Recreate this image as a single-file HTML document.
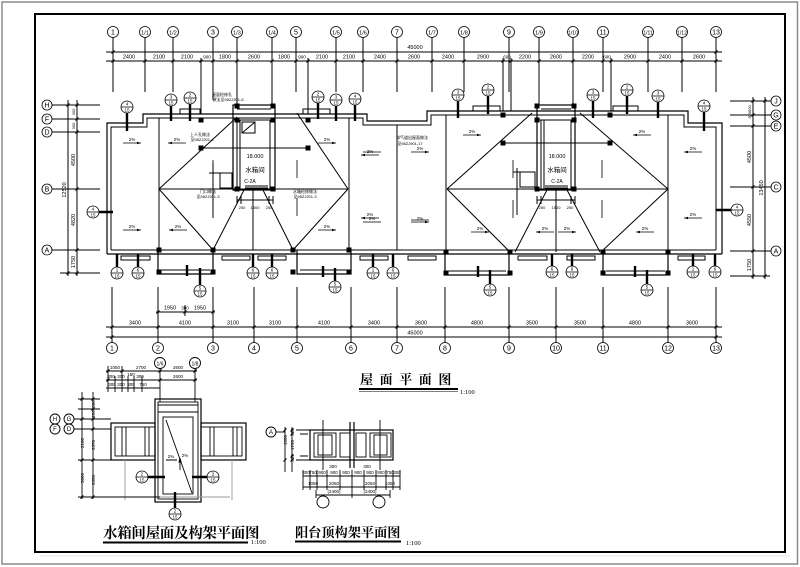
<!DOCTYPE html>
<html><head><meta charset="utf-8"><style>
html,body{margin:0;padding:0;background:#fff;}
svg{display:block;}
text{font-family:"Liberation Sans","Noto Sans CJK SC",sans-serif;fill:#000;stroke:none;}
.s{font-size:4.5px;text-anchor:middle;}
.d{font-size:5.5px;text-anchor:middle;}
.a{font-size:7px;text-anchor:middle;}
.cj{font-family:"Liberation Serif","Noto Serif CJK SC","Noto Sans CJK SC",serif;font-weight:bold;}
</style></head><body>
<svg width="800" height="567" viewBox="0 0 800 567" xmlns="http://www.w3.org/2000/svg">
<rect x="0" y="0" width="800" height="567" fill="#fff"/>
<!-- frames -->
<rect x="2" y="2" width="795.5" height="562" fill="none" stroke="#8a8a8a" stroke-width="1.5"/>
<rect x="35" y="14" width="750" height="538" fill="none" stroke="#000" stroke-width="2"/>
<line x1="40" y1="556" x2="790" y2="556" stroke="#e2e2e2" stroke-width="1"/>

<g fill="none" stroke="#000" stroke-width="1">
<!-- ===== TOP AXES ===== -->
<g stroke-width="0.8">
<circle cx="113" cy="32" r="5.5"/><circle cx="145" cy="32" r="5.5"/><circle cx="173" cy="32" r="5.5"/><circle cx="213" cy="32" r="5.5"/><circle cx="237" cy="32" r="5.5"/><circle cx="272" cy="32" r="5.5"/><circle cx="296" cy="32" r="5.5"/><circle cx="336" cy="32" r="5.5"/><circle cx="363" cy="32" r="5.5"/><circle cx="397" cy="32" r="5.5"/><circle cx="432" cy="32" r="5.5"/><circle cx="464" cy="32" r="5.5"/><circle cx="509" cy="32" r="5.5"/><circle cx="539" cy="32" r="5.5"/><circle cx="573" cy="32" r="5.5"/><circle cx="603" cy="32" r="5.5"/><circle cx="648" cy="32" r="5.5"/><circle cx="682" cy="32" r="5.5"/><circle cx="716" cy="32" r="5.5"/>
</g>
<path d="M113 37.5V92M145 37.5V92M173 37.5V92M213 37.5V100M237 37.5V105M272 37.5V105M296 37.5V92M336 37.5V92M363 37.5V92M397 37.5V92M432 37.5V92M464 37.5V92M509 37.5V92M539 37.5V105M573 37.5V105M603 37.5V92M648 37.5V92M682 37.5V92M716 37.5V92M201 58V114M308 58V114M503 58V111M511 58V111M611 58V111"/>
<path d="M106 52H722M106 61H722"/>
<path stroke-width="1.1" d="M111.5 53.5l3-3M714.5 53.5l3-3M111.5 62.5l3-3M143.5 62.5l3-3M171.5 62.5l3-3M199.5 62.5l3-3M211.5 62.5l3-3M235.5 62.5l3-3M270.5 62.5l3-3M294.5 62.5l3-3M306.5 62.5l3-3M334.5 62.5l3-3M361.5 62.5l3-3M395.5 62.5l3-3M430.5 62.5l3-3M462.5 62.5l3-3M501.5 62.5l3-3M509.5 62.5l3-3M537.5 62.5l3-3M571.5 62.5l3-3M601.5 62.5l3-3M609.5 62.5l3-3M646.5 62.5l3-3M680.5 62.5l3-3M714.5 62.5l3-3"/>

<!-- ===== BOTTOM AXES ===== -->
<g stroke-width="0.8">
<circle cx="112" cy="348" r="5.5"/><circle cx="158" cy="348" r="5.5"/><circle cx="213" cy="348" r="5.5"/><circle cx="254" cy="348" r="5.5"/><circle cx="297" cy="348" r="5.5"/><circle cx="351" cy="348" r="5.5"/><circle cx="397" cy="348" r="5.5"/><circle cx="445" cy="348" r="5.5"/><circle cx="509" cy="348" r="5.5"/><circle cx="556" cy="348" r="5.5"/><circle cx="603" cy="348" r="5.5"/><circle cx="668" cy="348" r="5.5"/><circle cx="716" cy="348" r="5.5"/>
</g>
<path d="M112 287V342.5M158 287V342.5M213 287V342.5M254 287V342.5M297 287V342.5M351 287V342.5M397 287V342.5M445 287V342.5M509 287V342.5M556 287V342.5M603 287V342.5M668 287V342.5M716 287V342.5"/>
<path d="M106 327H722M106 337H722M156 312H215"/>
<path stroke-width="1.1" d="M110.5 328.5l3-3M156.5 328.5l3-3M211.5 328.5l3-3M252.5 328.5l3-3M295.5 328.5l3-3M349.5 328.5l3-3M395.5 328.5l3-3M443.5 328.5l3-3M507.5 328.5l3-3M554.5 328.5l3-3M601.5 328.5l3-3M666.5 328.5l3-3M714.5 328.5l3-3M110.5 338.5l3-3M714.5 338.5l3-3M156.5 313.5l3-3M211.5 313.5l3-3M183.5 313.5l3-3"/>
<path d="M185 305V316"/>

<!-- ===== LEFT AXES ===== -->
<circle cx="47" cy="105" r="5" stroke-width="0.8"/><circle cx="47" cy="119" r="5" stroke-width="0.8"/><circle cx="47" cy="132" r="5" stroke-width="0.8"/><circle cx="47" cy="189" r="5" stroke-width="0.8"/><circle cx="47" cy="250" r="5" stroke-width="0.8"/>
<path d="M52 105H100M52 119H100M52 132H100M52 189H100M52 250H100M60 273H100M68 100V276M77 100V276"/>
<path stroke-width="1.1" d="M66.5 106.5l3-3M66.5 274.5l3-3M75.5 106.5l3-3M75.5 120.5l3-3M75.5 133.5l3-3M75.5 190.5l3-3M75.5 251.5l3-3M75.5 274.5l3-3"/>

<!-- ===== RIGHT AXES ===== -->
<circle cx="776" cy="101" r="5" stroke-width="0.8"/><circle cx="776" cy="115" r="5" stroke-width="0.8"/><circle cx="776" cy="126" r="5" stroke-width="0.8"/><circle cx="776" cy="187" r="5" stroke-width="0.8"/><circle cx="776" cy="251" r="5" stroke-width="0.8"/>
<path d="M730 101H771M730 115H771M730 126H771M730 187H771M730 251H771M730 276H770M753 97V279M765 97V279"/>
<path stroke-width="1.1" d="M751.5 102.5l3-3M751.5 116.5l3-3M751.5 127.5l3-3M751.5 188.5l3-3M751.5 252.5l3-3M751.5 277.5l3-3M763.5 102.5l3-3M763.5 277.5l3-3"/>

<!-- ===== MAIN BUILDING ===== -->
<polyline stroke-width="1.2" points="107,254 107,123 143,123 143,114 367,114 367,121 427,121 427,111 688,111 688,123 722,123 722,254"/>
<polyline points="111,250 111,127 147,127 147,118 363,118 363,125 431,125 431,115 684,115 684,127 716,127 716,250"/>
<path stroke-width="1.2" d="M107 254H722"/>
<path d="M111 250H716"/>
<!-- top sills -->
<rect x="180" y="109" width="20" height="5"/><rect x="303" y="109" width="27" height="5"/><rect x="473" y="106" width="27" height="5"/><rect x="613" y="106" width="25" height="5"/>
<!-- bottom sills -->
<rect x="121" y="256" width="29" height="4"/><rect x="222" y="256" width="28" height="4"/><rect x="258" y="256" width="28" height="4"/><rect x="360" y="256" width="28" height="4"/><rect x="408" y="256" width="28" height="4"/><rect x="518" y="256" width="29" height="4"/><rect x="567" y="256" width="28" height="4"/><rect x="678" y="256" width="27" height="4"/>
<!-- balconies -->
<path stroke-width="1.2" d="M158 250V274H213V250M297 250V274H351V250M445 252V275H509V252M603 252V275H668V252"/>
<path d="M161 270H210M300 270H348M448 271H506M606 271H665"/>
<!-- interior verticals -->
<path d="M159 118V250M349 118V250M397 125V250M446 115V250M668 115V250"/>
<!-- hip roof left -->
<path d="M159 189H348M159 189L237 117M159 189L213 250M348 189L297 113M348 189L293 250M213 250L244 190M293 250L263 190M253 190V250M201 148H308"/>
<!-- hip roof right -->
<path d="M447 189H668M447 189L532 113M447 189L510 252M668 189L580 113M668 189L601 252M515 252L547 190M600 252L567 190M556 190V252M503 143H610"/>
<!-- water tank left -->
<rect x="233" y="105" width="42" height="85" stroke-width="1.2"/>
<path d="M237 120V189M240 120V189M270 120V189M233 120H275M237 109H271"/>
<rect x="242" y="122" width="13" height="11"/><path d="M242 133L255 122"/>
<rect x="220" y="173" width="12" height="15"/>
<path d="M237 200H273M237 196V204M241 196V204M269 196V204M273 196V204"/>
<path d="M245 186H268M245 188H268"/>
<!-- water tank right -->
<rect x="537" y="105" width="38" height="85" stroke-width="1.2"/>
<path d="M541 120V189M544 120V189M571 120V189M537 120H575M541 109H571"/>
<rect x="520" y="172" width="15" height="15"/>
<path d="M537 200H575M537 196V204M541 196V204M571 196V204M575 196V204"/>
<path d="M545 186H568M545 188H568"/>
<!-- tank vertical dims -->
<path d="M213 163V218M209 173H220M517 168V215M513 172H520"/>

<!-- room arrows -->
<path stroke-width="0.8" d="M123 143H141M168 143H186M318 143H336M361 155H379M123 230H141M169 230H187M318 230H336M361 218H379M363 152H381M411 152H429M363 222H381M411 222H429M463 135H481M633 135H651M684 152H702M411 220H429M471 232H489M536 232H554M558 232H576M636 232H654M684 218H702M213 160V178M213 198V216M297 160V178M297 198V216M513 160V178M513 200V218M602 160V178M602 200V218"/>
</g>

<!-- column squares -->
<g fill="#000">
<rect x="198.5" y="117.5" width="5" height="5"/><rect x="198.5" y="145.5" width="5" height="5"/><rect x="305.5" y="117.5" width="5" height="5"/><rect x="305.5" y="145.5" width="5" height="5"/>
<rect x="234.5" y="103.5" width="5" height="5"/><rect x="270.5" y="103.5" width="5" height="5"/><rect x="234.5" y="117.5" width="5" height="5"/><rect x="270.5" y="117.5" width="5" height="5"/><rect x="234.5" y="186.5" width="5" height="5"/><rect x="270.5" y="186.5" width="5" height="5"/>
<rect x="156.5" y="247.5" width="5" height="5"/><rect x="210.5" y="247.5" width="5" height="5"/><rect x="290.5" y="247.5" width="5" height="5"/><rect x="346.5" y="247.5" width="5" height="5"/>
<rect x="156.5" y="269.5" width="5" height="5"/><rect x="210.5" y="269.5" width="5" height="5"/><rect x="290.5" y="269.5" width="5" height="5"/><rect x="346.5" y="269.5" width="5" height="5"/>
<rect x="500.5" y="112.5" width="5" height="5"/><rect x="607.5" y="112.5" width="5" height="5"/><rect x="500.5" y="140.5" width="5" height="5"/><rect x="607.5" y="140.5" width="5" height="5"/>
<rect x="534.5" y="103.5" width="5" height="5"/><rect x="571.5" y="103.5" width="5" height="5"/><rect x="534.5" y="117.5" width="5" height="5"/><rect x="571.5" y="117.5" width="5" height="5"/><rect x="534.5" y="186.5" width="5" height="5"/><rect x="571.5" y="186.5" width="5" height="5"/>
<rect x="443.5" y="249.5" width="5" height="5"/><rect x="507.5" y="249.5" width="5" height="5"/><rect x="600.5" y="249.5" width="5" height="5"/><rect x="665.5" y="249.5" width="5" height="5"/>
<rect x="443.5" y="270.5" width="5" height="5"/><rect x="507.5" y="270.5" width="5" height="5"/><rect x="600.5" y="270.5" width="5" height="5"/><rect x="665.5" y="270.5" width="5" height="5"/>
<!-- arrowheads -->
<path d="M141 143l-4-1.2v2.4zM168 143l4-1.2v2.4zM336 143l-4-1.2v2.4zM361 155l4-1.2v2.4zM141 230l-4-1.2v2.4zM169 230l4-1.2v2.4zM336 230l-4-1.2v2.4zM361 218l4-1.2v2.4zM429 152l-4-1.2v2.4zM429 222l-4-1.2v2.4zM481 135l-4-1.2v2.4zM633 135l4-1.2v2.4zM684 152l4-1.2v2.4zM489 232l-4-1.2v2.4zM536 232l4-1.2v2.4zM576 232l-4-1.2v2.4zM636 232l4-1.2v2.4zM684 218l4-1.2v2.4z"/>
</g>

<!-- section stubs (thick) -->
<g stroke="#000" stroke-width="2.4" fill="none">
<path d="M127 113V131M171 106V121M190 104V121M318 103V119M336 106V121M355 105V121M458 101V118M488 96V114M593 101V118M627 96V114M658 102V118M704 112V131M99 212H113M716 210H731M117 254V267M138 254V267M200 268V285M187 265V276M253 254V267M272 254V267M335 268V281M323 266V277M373 254V267M393 254V267M490 270V284M478 266V277M552 254V266M572 254V266M647 270V284M635 266V277M693 254V266M715 254V266"/>
</g>

<!-- callouts -->
<g fill="#fff" stroke="#000" stroke-width="0.8">
<circle cx="127" cy="107" r="6"/><circle cx="171" cy="100" r="6"/><circle cx="190" cy="98" r="6"/><circle cx="318" cy="97" r="6"/><circle cx="336" cy="100" r="6"/><circle cx="355" cy="99" r="6"/><circle cx="458" cy="95" r="6"/><circle cx="488" cy="90" r="6"/><circle cx="593" cy="95" r="6"/><circle cx="627" cy="90" r="6"/><circle cx="658" cy="96" r="6"/><circle cx="704" cy="106" r="6"/><circle cx="93" cy="212" r="6"/><circle cx="737" cy="210" r="6"/>
<circle cx="117" cy="273" r="6"/><circle cx="138" cy="273" r="6"/><circle cx="200" cy="291" r="6"/><circle cx="253" cy="273" r="6"/><circle cx="272" cy="273" r="6"/><circle cx="335" cy="287" r="6"/><circle cx="373" cy="273" r="6"/><circle cx="393" cy="273" r="6"/><circle cx="490" cy="290" r="6"/><circle cx="552" cy="272" r="6"/><circle cx="572" cy="272" r="6"/><circle cx="647" cy="290" r="6"/><circle cx="693" cy="272" r="6"/><circle cx="715" cy="272" r="6"/>
</g>
<path fill="none" stroke="#000" stroke-width="0.7" d="M121 107h12M165 100h12M184 98h12M312 97h12M330 100h12M349 99h12M452 95h12M482 90h12M587 95h12M621 90h12M652 96h12M698 106h12M87 212h12M731 210h12M111 273h12M132 273h12M194 291h12M247 273h12M266 273h12M329 287h12M367 273h12M387 273h12M484 290h12M546 272h12M566 272h12M641 290h12M687 272h12M709 272h12"/>
<g class="s">
<text x="127" y="105.5">4</text><text x="127" y="111.5">15</text>
<text x="171" y="98.5">3</text><text x="171" y="104.5">15</text>
<text x="190" y="96.5">2</text><text x="190" y="102.5">15</text>
<text x="318" y="95.5">2</text><text x="318" y="101.5">15</text>
<text x="336" y="98.5">3</text><text x="336" y="104.5">15</text>
<text x="355" y="97.5">4</text><text x="355" y="103.5">15</text>
<text x="458" y="93.5">3</text><text x="458" y="99.5">15</text>
<text x="488" y="88.5">2</text><text x="488" y="94.5">15</text>
<text x="593" y="93.5">3</text><text x="593" y="99.5">15</text>
<text x="627" y="88.5">2</text><text x="627" y="94.5">15</text>
<text x="658" y="94.5">3</text><text x="658" y="100.5">15</text>
<text x="704" y="104.5">4</text><text x="704" y="110.5">15</text>
<text x="93" y="210.5">4</text><text x="93" y="216.5">15</text>
<text x="737" y="208.5">4</text><text x="737" y="214.5">15</text>
<text x="117" y="271.5">1</text><text x="117" y="277.5">15</text>
<text x="138" y="271.5">6</text><text x="138" y="277.5">15</text>
<text x="200" y="289.5">5</text><text x="200" y="295.5">15</text>
<text x="253" y="271.5">6</text><text x="253" y="277.5">15</text>
<text x="272" y="271.5">6</text><text x="272" y="277.5">15</text>
<text x="335" y="285.5">5</text><text x="335" y="291.5">15</text>
<text x="373" y="271.5">1</text><text x="373" y="277.5">15</text>
<text x="393" y="271.5">6</text><text x="393" y="277.5">15</text>
<text x="490" y="288.5">5</text><text x="490" y="294.5">15</text>
<text x="552" y="270.5">6</text><text x="552" y="276.5">15</text>
<text x="572" y="270.5">6</text><text x="572" y="276.5">15</text>
<text x="647" y="288.5">5</text><text x="647" y="294.5">15</text>
<text x="693" y="270.5">1</text><text x="693" y="276.5">15</text>
<text x="715" y="270.5">6</text><text x="715" y="276.5">15</text>
</g>

<!-- axis labels -->
<g class="a">
<text x="113" y="34.5">1</text><text x="145" y="34.5" style="font-size:5.5px">1/1</text><text x="173" y="34.5" style="font-size:5.5px">1/2</text><text x="213" y="34.5">3</text><text x="237" y="34.5" style="font-size:5.5px">1/3</text><text x="272" y="34.5" style="font-size:5.5px">1/4</text><text x="296" y="34.5">5</text><text x="336" y="34.5" style="font-size:5.5px">1/5</text><text x="363" y="34.5" style="font-size:5.5px">1/6</text><text x="397" y="34.5">7</text><text x="432" y="34.5" style="font-size:5.5px">1/7</text><text x="464" y="34.5" style="font-size:5.5px">1/8</text><text x="509" y="34.5">9</text><text x="539" y="34.5" style="font-size:5.5px">1/9</text><text x="573" y="34.5" style="font-size:5px">1/10</text><text x="603" y="34.5">11</text><text x="648" y="34.5" style="font-size:5px">1/11</text><text x="682" y="34.5" style="font-size:5px">1/12</text><text x="716" y="34.5">13</text>
<text x="112" y="350.5">1</text><text x="158" y="350.5">2</text><text x="213" y="350.5">3</text><text x="254" y="350.5">4</text><text x="297" y="350.5">5</text><text x="351" y="350.5">6</text><text x="397" y="350.5">7</text><text x="445" y="350.5">8</text><text x="509" y="350.5">9</text><text x="556" y="350.5">10</text><text x="603" y="350.5">11</text><text x="668" y="350.5">12</text><text x="716" y="350.5">13</text>
<text x="47" y="107.5">H</text><text x="47" y="121.5">F</text><text x="47" y="134.5">D</text><text x="47" y="191.5">B</text><text x="47" y="252.5">A</text>
<text x="776" y="103.5">J</text><text x="776" y="117.5">G</text><text x="776" y="128.5">E</text><text x="776" y="189.5">C</text><text x="776" y="253.5">A</text>
</g>

<!-- dimension texts -->
<g class="d">
<text x="415" y="49">45000</text>
<text x="129" y="58.5">2400</text><text x="159" y="58.5">2100</text><text x="187" y="58.5">2100</text><text x="207" y="58.5" style="font-size:4.5px">900</text><text x="225" y="58.5">1800</text><text x="254" y="58.5">2600</text><text x="284" y="58.5">1800</text><text x="302" y="58.5" style="font-size:4.5px">900</text><text x="322" y="58.5">2100</text><text x="349" y="58.5">2100</text><text x="380" y="58.5">2400</text><text x="414" y="58.5">2600</text><text x="448" y="58.5">2400</text><text x="483" y="58.5">2900</text><text x="507" y="58.5" style="font-size:4.5px">600</text><text x="525" y="58.5">2200</text><text x="556" y="58.5">2600</text><text x="588" y="58.5">2200</text><text x="607" y="58.5" style="font-size:4.5px">600</text><text x="630" y="58.5">2900</text><text x="665" y="58.5">2400</text><text x="699" y="58.5">2600</text>
<text x="135" y="324.5">3400</text><text x="185" y="324.5">4100</text><text x="233" y="324.5">3100</text><text x="275" y="324.5">3100</text><text x="324" y="324.5">4100</text><text x="374" y="324.5">3400</text><text x="421" y="324.5">3600</text><text x="477" y="324.5">4800</text><text x="532" y="324.5">3500</text><text x="580" y="324.5">3500</text><text x="635" y="324.5">4800</text><text x="692" y="324.5">3600</text>
<text x="415" y="334.5">45000</text>
<text x="170" y="309.5">1950</text><text x="185" y="309.5" style="font-size:4.5px">300</text><text x="200" y="309.5">1950</text>
<text transform="translate(75,160) rotate(-90)">4500</text>
<text transform="translate(75,220) rotate(-90)">4820</text>
<text transform="translate(75,262) rotate(-90)">1750</text>
<text transform="translate(66,190) rotate(-90)">12520</text>
<text transform="translate(75,112) rotate(-90)" style="font-size:4px">300</text>
<text transform="translate(75,126) rotate(-90)" style="font-size:4px">300</text>
<text transform="translate(751,157) rotate(-90)">4500</text>
<text transform="translate(751,220) rotate(-90)">4550</text>
<text transform="translate(751,265) rotate(-90)">1750</text>
<text transform="translate(763,188) rotate(-90)">13450</text>
<text transform="translate(751,112) rotate(-90)" style="font-size:4px">300600</text>
</g>

<!-- plan labels -->
<g class="s">
<text x="255" y="158" style="font-size:5.5px">18.000</text>
<text x="255" y="172" style="font-size:6.5px">水箱间</text>
<text x="250" y="183" style="font-size:5px">C-2A</text>
<text x="557" y="158" style="font-size:5.5px">18.000</text>
<text x="557" y="172" style="font-size:6.5px">水箱间</text>
<text x="557" y="183" style="font-size:5px">C-2A</text>
<text x="242" y="209" style="font-size:4px">250</text><text x="255" y="209" style="font-size:4px">1500</text><text x="269" y="209" style="font-size:4px">250</text>
<text x="542" y="209" style="font-size:4px">250</text><text x="556" y="209" style="font-size:4px">1500</text><text x="570" y="209" style="font-size:4px">250</text>
<text x="222" y="96" style="font-size:4px">屋面检修孔</text><text x="228" y="101" style="font-size:4px">做法见98ZJ201-6</text>
<text x="200" y="136" style="font-size:4px">上人孔做法</text><text x="202" y="141" style="font-size:4px">见98ZJ201-4</text>
<text x="208" y="193" style="font-size:4px">门口做法</text><text x="208" y="198" style="font-size:4px">见98ZJ201-3</text>
<text x="305" y="193" style="font-size:4px">水箱检修做法</text><text x="305" y="198" style="font-size:4px">见98ZJ201-3</text>
<text x="412" y="139" style="font-size:4px">排气道出屋面做法</text><text x="410" y="145" style="font-size:4px">见98ZJ901-17</text>
<text x="132" y="141">2%</text><text x="177" y="141">2%</text><text x="327" y="141">2%</text><text x="370" y="153">2%</text><text x="132" y="228">2%</text><text x="178" y="228">2%</text><text x="327" y="228">2%</text><text x="370" y="216">2%</text><text x="420" y="150">2%</text><text x="420" y="220">2%</text><text x="372" y="220">2%</text><text x="472" y="133">2%</text><text x="642" y="133">2%</text><text x="693" y="150">2%</text><text x="480" y="230">2%</text><text x="545" y="230">2%</text><text x="567" y="230">2%</text><text x="645" y="230">2%</text><text x="693" y="216">2%</text>
</g>

<!-- ===== WATER TANK ROOF PLAN ===== -->
<g fill="none" stroke="#000" stroke-width="0.9">
<circle cx="160" cy="363" r="5.5"/><circle cx="195" cy="363" r="5.5"/>
<path d="M160 368.5V402M195 368.5V402M108 366V392M122 366V392M115 376V392M128 376V392M134 376V392M142 376V392M106 371H197M106 380H197M106 388H160"/>
<path stroke-width="1.1" d="M106.5 372.5l3-3M120.5 372.5l3-3M158.5 372.5l3-3M193.5 372.5l3-3M106.5 381.5l3-3M158.5 381.5l3-3M193.5 381.5l3-3"/>
<rect x="155" y="399" width="46" height="103" stroke-width="1.2"/>
<rect x="158" y="402" width="40" height="97"/>
<path d="M158 405H198M158 412H198"/>
<rect x="163" y="417" width="30" height="77"/>
<path d="M166 420L192 493"/>
<rect x="111" y="423" width="44" height="37" stroke-width="1.2"/>
<rect x="115" y="427" width="40" height="29"/>
<path d="M122 427V456M126 427V456M145 427V456M149 427V456"/>
<rect x="201" y="423" width="45" height="37" stroke-width="1.2"/>
<rect x="201" y="427" width="41" height="29"/>
<path d="M210 427V456M214 427V456M233 427V456M237 427V456"/>
<path stroke="#999" d="M120 497H230M125 460V500M232 460V500"/>
<circle cx="55" cy="419" r="5"/><circle cx="69" cy="419" r="5"/><circle cx="55" cy="429" r="5"/><circle cx="69" cy="429" r="5"/>
<path d="M74 419H111M74 429H111M78 399H100M78 409H100M78 460H111M78 497H160M82 392V499M93 392V499"/>
<path stroke-width="1.1" d="M80.5 400.5l3-3M80.5 420.5l3-3M80.5 461.5l3-3M80.5 498.5l3-3M91.5 400.5l3-3M91.5 410.5l3-3M91.5 420.5l3-3M91.5 430.5l3-3M91.5 461.5l3-3M91.5 498.5l3-3"/>
<path d="M180 458V470M180 458l-1 4h2zM166 460H177"/>
</g>
<g fill="none" stroke="#000" stroke-width="2.4">
<path d="M148 477H165M192 477H207M175 492V508"/>
</g>
<g fill="#fff" stroke="#000" stroke-width="0.8">
<circle cx="142" cy="477" r="6"/><circle cx="213" cy="477" r="6"/><circle cx="175" cy="514" r="6"/>
</g>
<path fill="none" stroke="#000" stroke-width="0.7" d="M136 477h12M207 477h12M169 514h12"/>
<g class="s">
<text x="142" y="475.5">2</text><text x="142" y="481.5">15</text>
<text x="213" y="475.5">2</text><text x="213" y="481.5">15</text>
<text x="175" y="512.5">2</text><text x="175" y="518.5">15</text>
<text x="160" y="365.5" style="font-size:5px">1/6</text><text x="195" y="365.5" style="font-size:5px">1/8</text>
<text x="55" y="421" style="font-size:6px">H</text><text x="69" y="421" style="font-size:6px">G</text><text x="55" y="431" style="font-size:6px">F</text><text x="69" y="431" style="font-size:6px">D</text>
<text x="115" y="369">1050</text><text x="141" y="369">2700</text><text x="178" y="369">2600</text>
<text x="111" y="378">300</text><text x="121" y="378">300</text><text x="131" y="376">150</text><text x="140" y="378">300</text><text x="178" y="378">2600</text>
<text x="112" y="386">300</text><text x="121" y="386">300</text><text x="131" y="386">300</text><text x="143" y="386">750</text>
<text transform="translate(84,443) rotate(-90)">2100</text>
<text transform="translate(84,478) rotate(-90)">3000</text>
<text transform="translate(95,404) rotate(-90)">300</text>
<text transform="translate(95,414) rotate(-90)">250</text>
<text transform="translate(95,445) rotate(-90)">2370</text>
<text transform="translate(95,480) rotate(-90)">2350</text>
<text x="185" y="457">2%</text><text x="171" y="458">2%</text>
</g>
<text class="cj" x="103" y="538" style="font-size:14.5px;letter-spacing:-0.3px">水箱间屋面及构架平面图</text>
<path d="M103 542.5H248" stroke="#000" stroke-width="2"/>
<text x="251" y="544" style="font-size:6.5px;font-family:'Liberation Serif',serif">1:100</text>

<!-- ===== BALCONY PLAN ===== -->
<g fill="none" stroke="#000" stroke-width="0.9">
<rect x="310" y="430" width="83" height="30" stroke-width="1.2"/>
<rect x="314" y="433" width="22" height="24"/>
<rect x="318" y="435" width="14" height="20"/>
<rect x="340" y="433" width="10" height="24"/>
<rect x="356" y="433" width="10" height="24"/>
<rect x="370" y="433" width="21" height="24"/>
<rect x="374" y="435" width="13" height="20"/>
<path d="M323 420V470M380 420V470M296 430H310M296 460H310M300 434H308M300 456H308M285 427V472M292 427V472"/>
<path stroke-width="1.1" d="M283.5 431.5l3-3M283.5 461.5l3-3M290.5 431.5l3-3M290.5 435.5l3-3M290.5 457.5l3-3M290.5 461.5l3-3"/>
<circle cx="271" cy="432" r="5"/>
<path d="M276 432H285"/>
<path d="M303 476H400M303 487H400M316 495H390M303 470V490M310 470V490M317 470V490M327 470V490M340 470V490M352 470V498M364 470V490M376 470V490M386 470V490M393 470V490M400 470V490M316 490V498M390 490V498"/>
<circle cx="323" cy="502" r="6"/><circle cx="379" cy="502" r="6"/>
</g>
<g stroke="#000" stroke-width="1.2"><path d="M350 422V468M354 422V468"/></g>
<g class="s">
<text x="271" y="434" style="font-size:6px">A</text>
<text x="333" y="468">300</text><text x="367" y="468">300</text>
<text x="306" y="474">300</text><text x="313" y="474">750</text><text x="322" y="474">900</text><text x="334" y="474">900</text><text x="346" y="474">900</text><text x="358" y="474">900</text><text x="370" y="474">900</text><text x="381" y="474">900</text><text x="390" y="474">750</text><text x="397" y="474">300</text>
<text x="313" y="485">1050</text><text x="334" y="485">2050</text><text x="370" y="485">2050</text><text x="390" y="485">1050</text>
<text x="334" y="493">(2400)</text><text x="370" y="493">(2400)</text>
<text transform="translate(287,440) rotate(-90)">1500</text>
<text transform="translate(294,445) rotate(-90)">1750</text>
<text transform="translate(294,432) rotate(-90)">250</text>
<text transform="translate(294,458) rotate(-90)">250</text>
</g>
<text class="cj" x="295" y="537" style="font-size:13.2px">阳台顶构架平面图</text>
<path d="M295 541.5H401" stroke="#000" stroke-width="2"/>
<text x="406" y="545" style="font-size:6.5px;font-family:'Liberation Serif',serif">1:100</text>

<!-- ===== MAIN TITLE ===== -->
<text class="cj" x="360" y="384" style="font-size:13px;letter-spacing:6.6px">屋面平面图</text>
<path d="M359 389H458" stroke="#000" stroke-width="2"/>
<path d="M359 391.5H458" stroke="#000" stroke-width="0.6"/>
<text x="460" y="394" style="font-size:6.5px;font-family:'Liberation Serif',serif">1:100</text>
</svg>
</body></html>
